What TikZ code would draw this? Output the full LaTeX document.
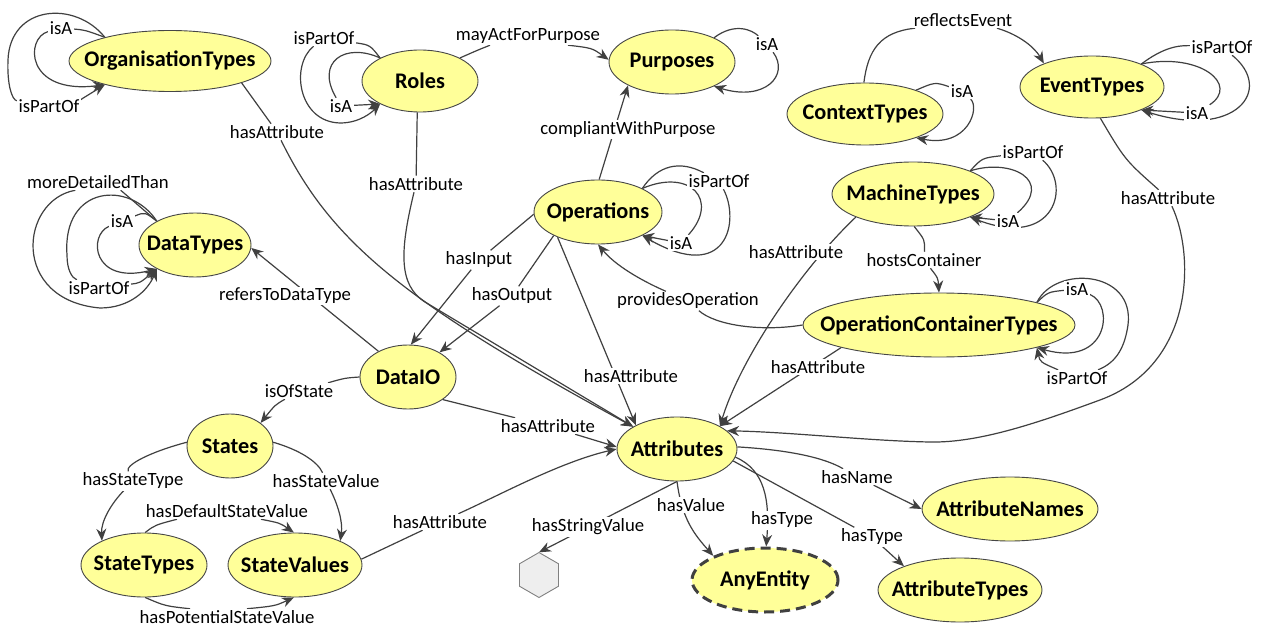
\documentclass[tikz,border=0pt]{standalone}
\usepackage{fontspec}
\setmainfont{Carlito}
\usetikzlibrary{shapes.geometric,arrows.meta}
\definecolor{entfill}{RGB}{255,255,153}
\definecolor{edgec}{RGB}{64,64,64}
\definecolor{bordc}{RGB}{70,70,70}
\definecolor{hexfill}{RGB}{238,238,238}
\definecolor{hexline}{RGB}{128,128,128}
\newcommand\entfont{\fontsize{22.3}{25}\selectfont\bfseries}
\newcommand\lblfont{\fontsize{18.7}{21}\selectfont}
\newcommand\zw[1]{\makebox[0pt]{#1}}
\pgfdeclarelayer{bgl}
\pgfdeclarelayer{edges}
\pgfsetlayers{bgl,edges,main}
\begin{document}
\begin{tikzpicture}[x=1pt,y=1pt,
  ent/.style={ellipse, draw=bordc, line width=0.9pt, fill=entfill, inner sep=0pt, font=\entfont},
  anyent/.style={ellipse, draw=edgec, line width=3pt, dash pattern=on 10pt off 6pt, fill=entfill, inner sep=0pt, font=\entfont},
  lbl/.style={fill=white, inner sep=1.5pt, font=\lblfont},
  edge/.style={draw=edgec, line width=1.2pt, -{Stealth[length=12pt,width=10pt]}},
  hexst/.style={draw=hexline, fill=hexfill, line width=0.9pt}]
\useasboundingbox (0,0) rectangle (1263,-628);
\begin{pgfonlayer}{bgl}
\fill[white] (0,0) rectangle (1263,-628);
\end{pgfonlayer}

% entities
\node[ent, minimum width=202pt, minimum height=61pt] (OT) at (170,-61) {\zw{OrganisationTypes}};
\node[ent, minimum width=116pt, minimum height=62pt] (Roles) at (420,-81) {\zw{Roles}};
\node[ent, minimum width=126pt, minimum height=64pt] (Purp) at (672,-62) {\zw{Purposes}};
\node[ent, minimum width=156pt, minimum height=62pt] (Ctx) at (865,-114) {\zw{ContextTypes}};
\node[ent, minimum width=144pt, minimum height=62pt] (Evt) at (1092,-87) {\zw{EventTypes}};
\node[ent, minimum width=112pt, minimum height=64pt] (DT) at (195,-245) {\zw{DataTypes}};
\node[ent, minimum width=128pt, minimum height=64pt] (Ops) at (598,-212) {\zw{Operations}};
\node[ent, minimum width=162pt, minimum height=64pt] (Mach) at (913,-194) {\zw{MachineTypes}};
\node[ent, minimum width=272pt, minimum height=64pt] (OCT) at (939,-325) {\zw{OperationContainerTypes}};
\node[ent, minimum width=96pt, minimum height=64pt] (DIO) at (408,-377) {\zw{DataIO}};
\node[ent, minimum width=86pt, minimum height=64pt] (States) at (230,-446) {\zw{States}};
\node[ent, minimum width=126pt, minimum height=64pt] (ST) at (144,-565) {\zw{StateTypes}};
\node[ent, minimum width=134pt, minimum height=64pt] (SV) at (295,-565) {\zw{StateValues}};
\node[ent, minimum width=120pt, minimum height=64pt] (Attr) at (677,-449) {\zw{Attributes}};
\node[anyent, minimum width=146pt, minimum height=64pt] (Any) at (765,-580) {\zw{AnyEntity}};
\node[ent, minimum width=176pt, minimum height=64pt] (AN) at (1010,-509) {\zw{AttributeNames}};
\node[ent, minimum width=164pt, minimum height=64pt] (AT) at (960,-590) {\zw{AttributeTypes}};
\node[circle, minimum size=45pt, inner sep=0pt] (Hex) at (539,-575) {};
\draw[hexst, shift={(539,-575)}] (90:22.5) -- (150:22.5) -- (210:22.5) -- (270:22.5) -- (330:22.5) -- (30:22.5) -- cycle;

% labels
\node[lbl] (lOTa) at (61,-28) {isA};
\node[lbl] (lOTp) at (49,-106) {isPartOf};
\node[lbl] (l2) at (277,-132) {hasAttribute};
\node[lbl] (lRp) at (324,-38) {isPartOf};
\node[lbl] (lRa) at (341,-106) {isA};
\node[lbl] (l3) at (416,-184) {hasAttribute};
\node[lbl] (l4) at (528,-36) {mayActForPurpose};
\node[lbl] (l5) at (767,-44) {isA};
\node[lbl] (l6) at (628,-130) {compliantWithPurpose};
\node[lbl] (l7) at (963,-20) {reflectsEvent};
\node[lbl] (l8) at (962,-91) {isA};
\node[lbl] (l9a) at (1222,-47) {isPartOf};
\node[lbl] (l9b) at (1197,-113) {isA};
\node[lbl] (l10a) at (122,-221) {isA};
\node[lbl] (l10b) at (99,-288) {isPartOf};
\node[lbl] (l10c) at (98,-182) {moreDetailedThan};
\node[lbl] (l11) at (285,-296) {refersToDataType};
\node[lbl] (l12) at (479,-260) {hasInput};
\node[lbl] (l13) at (512,-296) {hasOutput};
\node[lbl] (l14) at (631,-376) {hasAttribute};
\node[lbl] (l15a) at (719,-181) {isPartOf};
\node[lbl] (l15b) at (681,-243) {isA};
\node[lbl] (l16a) at (1033,-152) {isPartOf};
\node[lbl] (l16b) at (1008,-221) {isA};
\node[lbl] (l17) at (796,-252) {hasAttribute};
\node[lbl] (l18) at (924,-260) {hostsContainer};
\node[lbl] (l19) at (688,-301) {providesOperation};
\node[lbl] (l20a) at (1077,-289) {isA};
\node[lbl] (l20b) at (1077,-378) {isPartOf};
\node[lbl] (l21) at (818,-367) {hasAttribute};
\node[lbl] (l22) at (1168,-198) {hasAttribute};
\node[lbl] (l23) at (299,-391) {isOfState};
\node[lbl] (l24) at (548,-426) {hasAttribute};
\node[lbl] (l25) at (133,-481) {hasStateType};
\node[lbl] (l26) at (326,-481) {hasStateValue};
\node[lbl] (l27) at (227,-511) {hasDefaultStateValue};
\node[lbl] (l28) at (227,-617) {hasPotentialStateValue};
\node[lbl] (l29) at (440,-522) {hasAttribute};
\node[lbl] (l30) at (588,-527) {hasStringValue};
\node[lbl] (l31) at (691,-505) {hasValue};
\node[lbl] (l32) at (782,-520) {hasType};
\node[lbl] (l33) at (857,-477) {hasName};
\node[lbl] (l34) at (872,-537) {hasType};

\begin{pgfonlayer}{edges}
% OrganisationTypes
\draw[edge] (OT.160) .. controls (85,-30) .. (lOTa) .. controls (25,-38) and (25,-95) .. (OT.-160);
\draw[edge] (OT.160) .. controls (75,0) and (10,-5) .. (8,-60) .. controls (7,-85) and (12,-100) .. (lOTp) .. controls (80,-100) .. (OT.-160);
\draw[edge] (OT.-17) -- (l2) .. controls (330,-240) and (400,-300) .. (Attr.153);
% Roles
\draw[edge] (Roles.-95) -- (l3) .. controls (400,-250) and (398,-285) .. (425,-302) -- (Attr.153);
\draw[edge] (Roles.150) .. controls (370,-45) .. (lRp) .. controls (290,-65) and (298,-122) .. (340,-123) .. controls (360,-123) and (372,-112) .. (Roles.-150);
\draw[edge] (Roles.150) .. controls (345,-42) and (315,-62) .. (lRa) -- (Roles.-150);
\draw[edge] (Roles.30) .. controls (478,-50) .. ([xshift=-38pt]l4.south) ([xshift=40pt]l4.south) .. controls (592,-48) .. (Purp.178);
% Purposes
\draw[edge] (Purp.30) .. controls (735,-22) and (752,-30) .. (l5) .. controls (790,-75) and (765,-102) .. (Purp.-30);
\draw[edge] (Ops.88) -- (Purp.208);
% Context / Event
\draw[edge] (Ctx.92) .. controls (868,-50) and (880,-32) .. ([xshift=-48pt]l7.south) ([xshift=34pt]l7.south) .. controls (1020,-35) and (1035,-48) .. (Evt.154);
\draw[edge] (Ctx.25) .. controls (935,-82) .. (l8) .. controls (980,-108) and (968,-148) .. (Ctx.-25);
\draw[edge] (Evt.25) .. controls (1160,-50) and (1175,-45) .. (l9a) .. controls (1275,-90) and (1235,-140) .. (Evt.-25);
\draw[edge] (Evt.25) .. controls (1200,-52) and (1240,-85) .. (l9b) -- (Evt.-25);
\draw[edge] (Evt.-75) .. controls (1125,-160) .. (l22) .. controls (1195,-255) and (1195,-365) .. (1100,-400) .. controls (1040,-422) and (980,-443) .. (930,-442) .. controls (870,-441) and (790,-432) .. (Attr.20);
% DataTypes
\draw[edge] (DT.148) .. controls (145,-212) .. (l10a) .. controls (88,-235) and (92,-285) .. (DT.-148);
\draw[edge] (DT.148) .. controls (130,-180) and (62,-185) .. (67,-255) .. controls (67,-270) and (72,-278) .. (l10b) .. controls (140,-283) .. (DT.-148);
\draw[edge] (DT.148) -- (l10c.-20) (l10c.200) .. controls (20,-200) and (10,-300) .. (100,-308) .. controls (130,-308) and (148,-290) .. (DT.-148);
\draw[edge] (DIO.139) -- (DT.-3);
% Operations
\draw[edge] (Ops.182) -- (l12) -- (DIO.85);
\draw[edge] (Ops.208) -- (l13) -- (DIO.38);
\draw[edge] (Ops.212) -- (Attr.150);
\draw[edge] (Ops.28) .. controls (658,-165) and (680,-160) .. (l15a) .. controls (740,-220) and (728,-285) .. (Ops.-28);
\draw[edge] (Ops.28) .. controls (690,-168) and (720,-200) .. (l15b) -- (Ops.-28);
% MachineTypes
\draw[edge] (Mach.22) .. controls (982,-158) .. (l16a) .. controls (1072,-185) and (1055,-250) .. (Mach.-22);
\draw[edge] (Mach.22) .. controls (1010,-158) and (1055,-180) .. (l16b) -- (Mach.-22);
\draw[edge] (Mach.202) .. controls (800,-270) and (740,-360) .. (Attr.28);
\draw[edge] (Mach.-88) .. controls (925,-240) .. (l18) .. controls (938,-278) .. (OCT.90);
% OperationContainerTypes
\draw[edge] (OCT.180) .. controls (760,-332) and (715,-325) .. (l19) .. controls (640,-280) and (615,-265) .. (Ops.-90);
\draw[edge] (OCT.13.5) .. controls (1048,-292) .. (l20a) .. controls (1115,-305) and (1108,-368) .. (OCT.-13.5);
\draw[edge] (OCT.13.5) .. controls (1055,-265) and (1135,-270) .. (1128,-325) .. controls (1125,-345) and (1118,-362) .. (l20b) .. controls (1040,-362) .. (OCT.-13.5);
\draw[edge] (OCT.193.5) -- (Attr.28);
% DataIO and States
\draw[edge] (DIO.180) .. controls (345,-378) .. (l23) .. controls (275,-405) .. (States.37);
\draw[edge] (DIO.-33) -- (l24) -- (Attr.178);
\draw[edge] (States.175) .. controls (150,-452) and (125,-465) .. (l25) .. controls (110,-505) and (101,-522) .. (ST.150);
\draw[edge] (States.5) .. controls (300,-450) and (318,-462) .. (l26) .. controls (338,-505) and (343,-522) .. (SV.28);
\draw[edge] (ST.88) .. controls (155,-525) .. ([xshift=-50pt]l27.south) ([xshift=34pt]l27.south) .. controls (280,-523) .. (SV.92);
\draw[edge] (ST.-88) .. controls (165,-606) .. ([xshift=-37pt]l28.north) ([xshift=20pt]l28.north) .. controls (275,-606) .. (SV.-92);
\draw[edge] (SV.5) -- (l29) .. controls (500,-495) and (560,-462) .. (Attr.180);
% Attributes
\draw[edge] (Attr.-90) -- (Hex.north);
\draw[edge] (Attr.-90) .. controls (682,-520) and (695,-535) .. (Any.155);
\draw[edge] (Attr.-8) .. controls (765,-470) and (770,-500) .. (Any.88);
\draw[edge] (Attr.2) .. controls (790,-450) and (825,-458) .. (l33) -- (AN.180);
\draw[edge] (Attr.-12) -- (l34) -- (AT.157);
\end{pgfonlayer}
\end{tikzpicture}
\end{document}
